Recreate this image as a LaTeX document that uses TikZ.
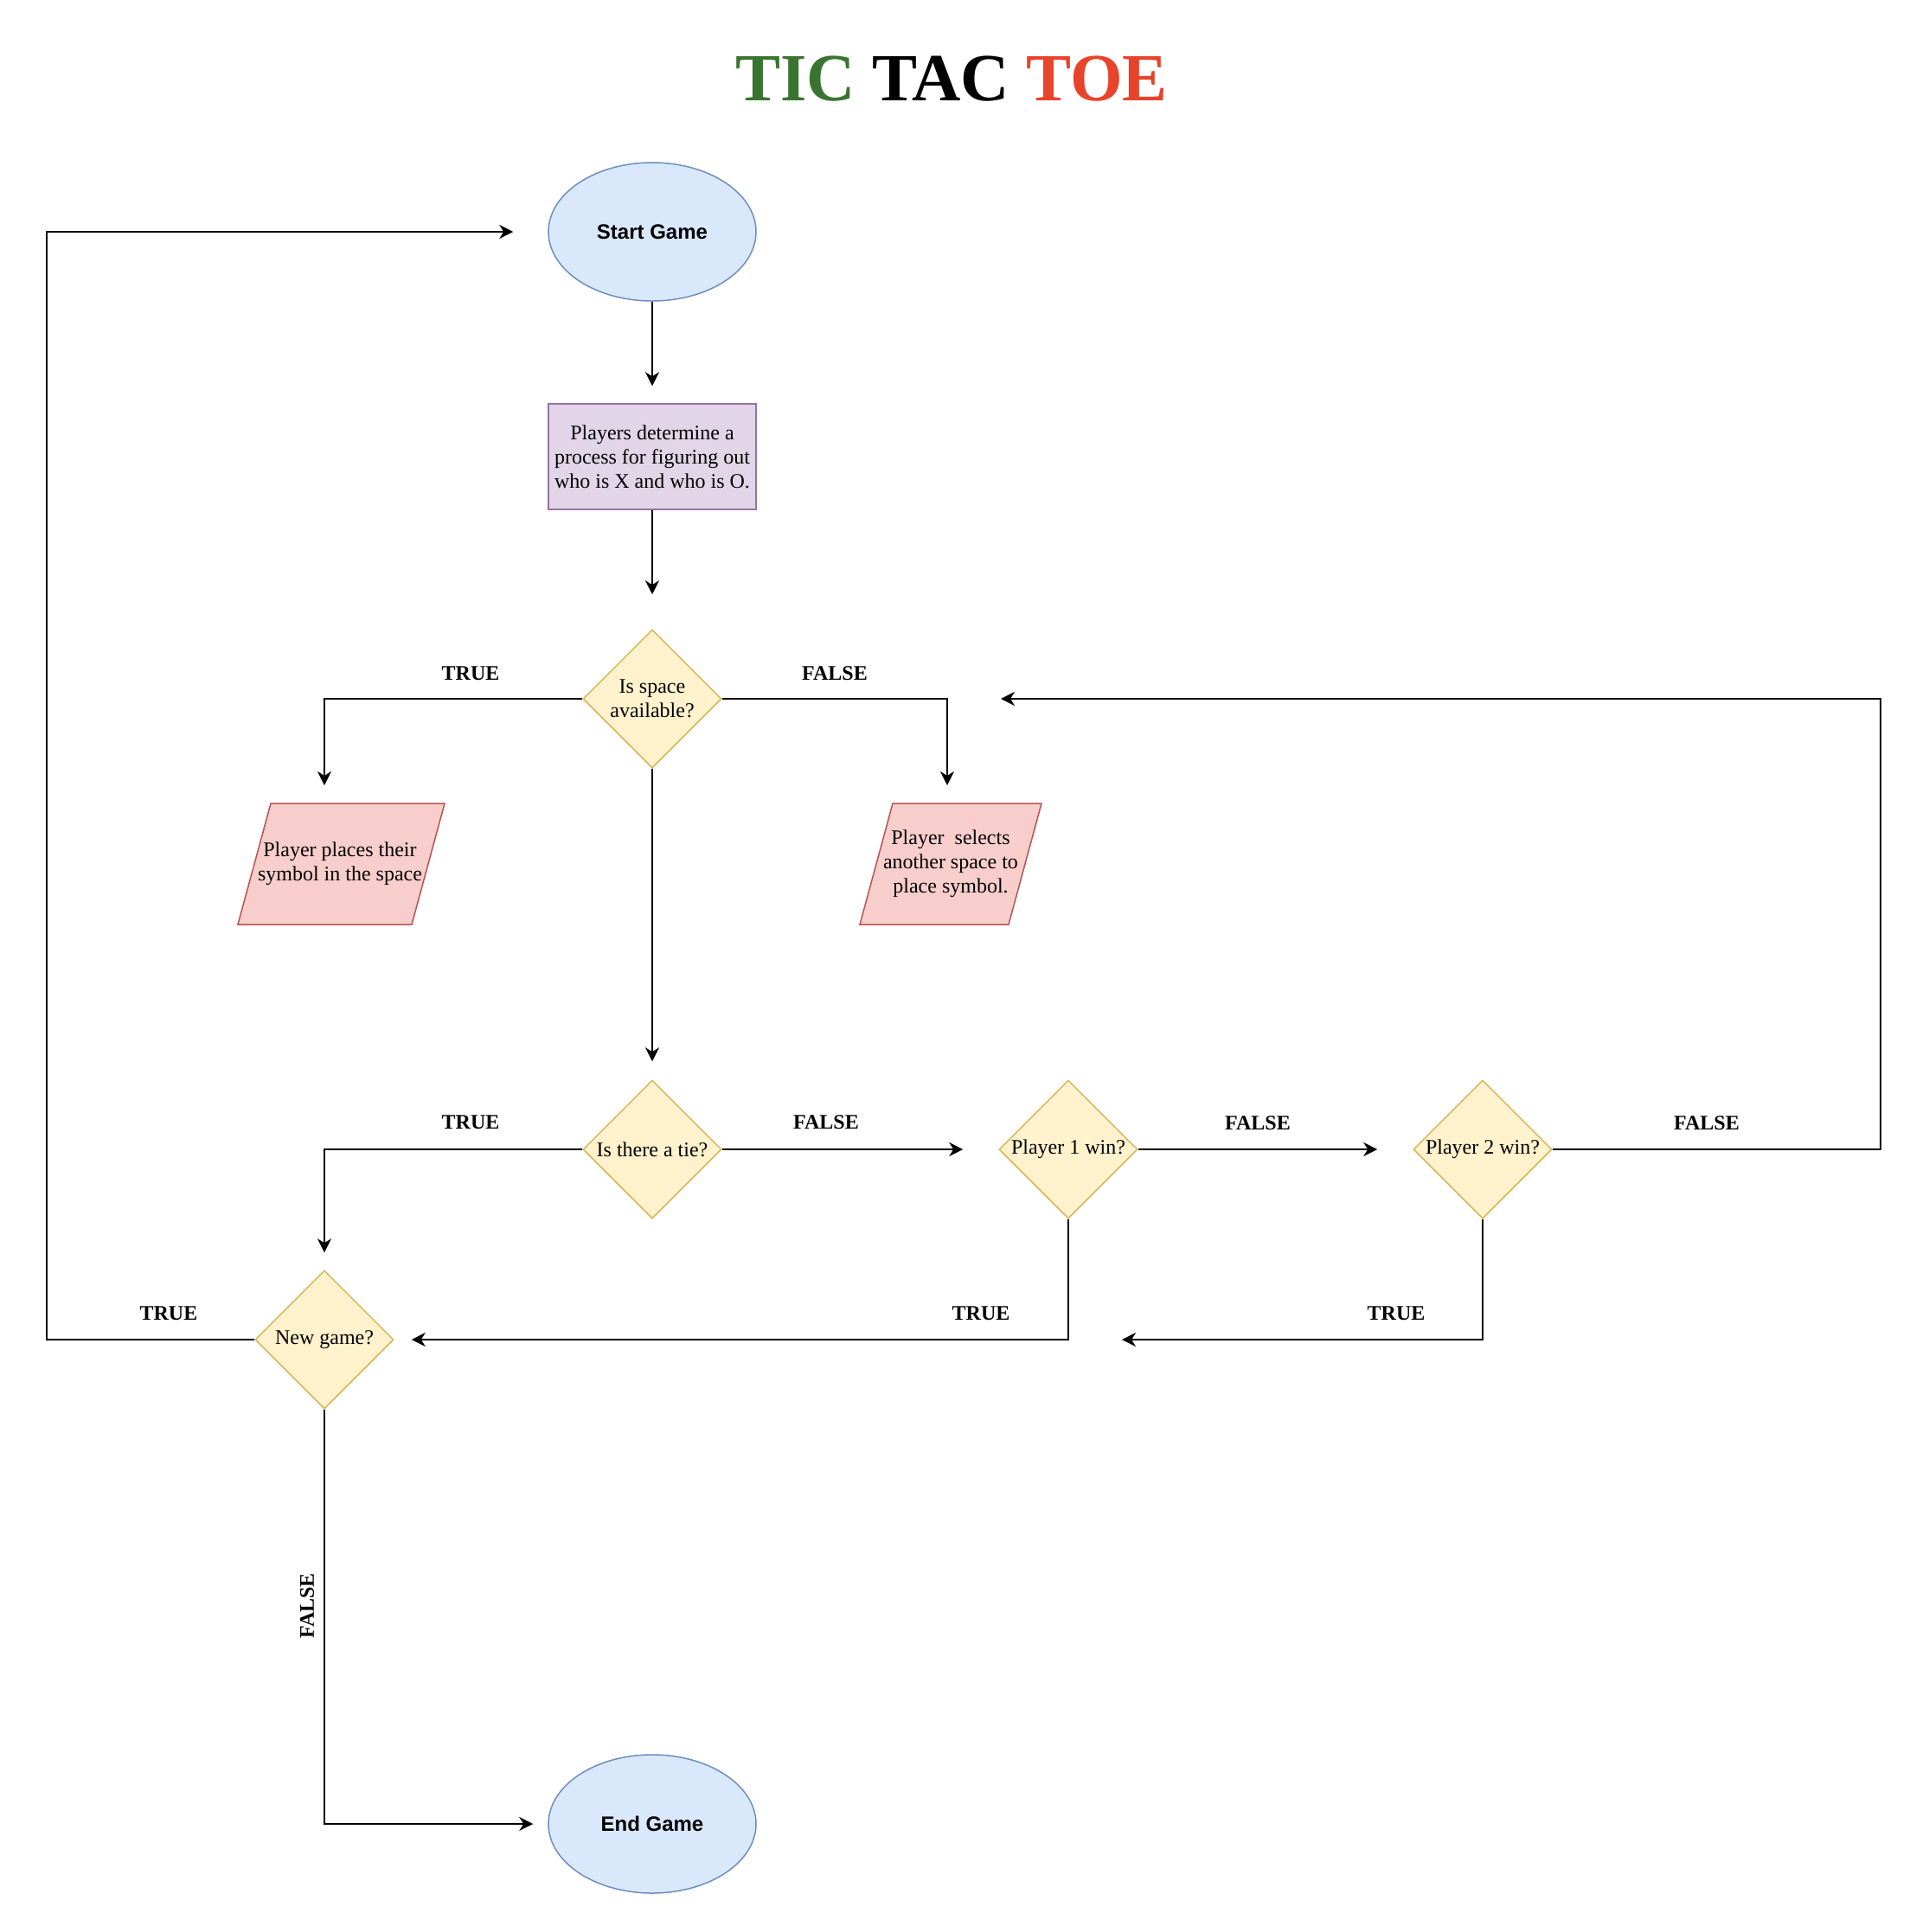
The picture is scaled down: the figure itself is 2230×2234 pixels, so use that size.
\documentclass[tikz,border=0pt]{standalone}
\usepackage{fontspec}
\setmainfont{Liberation Serif}
\newfontfamily\hsans{Liberation Sans}
\usetikzlibrary{shapes.geometric,arrows.meta}
\definecolor{bfill}{HTML}{DAE8FC}\definecolor{bdraw}{HTML}{6C8EBF}
\definecolor{pfill}{HTML}{E1D5E7}\definecolor{pdraw}{HTML}{9673A6}
\definecolor{yfill}{HTML}{FFF2CC}\definecolor{ydraw}{HTML}{D6B656}
\definecolor{rfill}{HTML}{F8CECC}\definecolor{rdraw}{HTML}{B85450}
\definecolor{tgreen}{HTML}{3A7430}\definecolor{tred}{HTML}{E8432B}
\begin{document}
\begin{tikzpicture}[x=0.5pt,y=-0.5pt,
 base/.style={font=\fontsize{12}{14}\selectfont, align=center},
 term/.style={ellipse, draw=bdraw, fill=bfill, line width=0.75pt, minimum width=120pt, minimum height=80pt, inner sep=0pt, font=\hsans\bfseries\fontsize{12}{14}\selectfont},
 procbox/.style={rectangle, draw=pdraw, fill=pfill, line width=0.75pt, minimum width=120pt, minimum height=61pt, inner sep=0pt, base},
 dia/.style={diamond, draw=ydraw, fill=yfill, line width=0.75pt, minimum width=80pt, minimum height=80pt, inner sep=0pt},
 io/.style={draw=rdraw, fill=rfill, line width=0.75pt},
 txt/.style={base, inner sep=0pt},
 lbl/.style={font=\bfseries\fontsize{12}{14}\selectfont, inner sep=0pt},
 conn/.style={line width=1pt, -{Stealth[length=8pt,width=8pt,inset=2.5pt]}}
]
\useasboundingbox (0,0) rectangle (2230,2234);

\node[font=\bfseries\fontsize{39}{46}\selectfont, anchor=base, inner sep=0pt] (title) at (1100,116) {\textcolor{tgreen}{TIC} TAC \textcolor{tred}{TOE}};

\node[term] (start) at (754,268) {Start Game};
\node[procbox] (proc) at (754,528) {Players determine a\\process for figuring out\\who is X and who is O.};

\node[dia] (space) at (754,808) {};
\node[txt] (space-t) at (754,808) {Is space\\available?};

\filldraw[io] (313,929) -- (514,929) -- (476,1069) -- (275,1069) -- cycle;
\node[txt] (pl-t) at (393,999) {Player places their\\symbol in the space};
\filldraw[io] (1032,929) -- (1204,929) -- (1166,1069) -- (994,1069) -- cycle;
\node[txt] (pr-t) at (1099,999) {Player\ \ selects\\another space to\\place symbol.};

\node[dia] (tie) at (754,1329) {};
\node[txt] (tie-t) at (754,1329) {Is there a tie?};
\node[dia] (p1) at (1235,1329) {};
\node[txt] (p1-t) at (1235,1329) {Player 1 win?};
\node[dia] (p2) at (1714,1329) {};
\node[txt] (p2-t) at (1714,1329) {Player 2 win?};
\node[dia] (ng) at (375,1549) {};
\node[txt] (ng-t) at (375,1549) {New game?};

\node[term] (end) at (754,2109) {End Game};

\coordinate (c-pl) at (375,908);
\coordinate (c-pr) at (1095,908);
\coordinate (c-loop) at (1157,808);
\coordinate (c-p2t) at (1297,1549);

\draw[conn, shorten >=10pt] (start) -- (proc);
\draw[conn, shorten >=20pt] (proc) -- (space);
\draw[conn] (space.west) -| (c-pl);
\draw[conn] (space.east) -| (c-pr);
\draw[conn, shorten >=10.5pt] (space) -- (tie);
\draw[conn, shorten >=10pt] (tie.west) -| (ng.north);
\draw[conn, shorten >=20.5pt] (tie) -- (p1);
\draw[conn, shorten >=20.5pt] (p1) -- (p2);
\draw[conn] (p2.east) -- (2174,1329) |- (c-loop);
\draw[conn, shorten >=10pt] (p1.south) |- (ng.east);
\draw[conn] (p2.south) |- (c-p2t);
\draw[conn, shorten >=20pt] (ng.west) -- (54,1549) |- (start.west);
\draw[conn, shorten >=8.5pt] (ng.south) |- (end.west);

\node[lbl] (l1) at (544,779) {TRUE};
\node[lbl] (l2) at (965,779) {FALSE};
\node[lbl] (l3) at (544,1298) {TRUE};
\node[lbl] (l4) at (955,1298) {FALSE};
\node[lbl] (l5) at (1454,1299) {FALSE};
\node[lbl] (l6) at (1973,1299) {FALSE};
\node[lbl] (l7) at (1134,1519) {TRUE};
\node[lbl] (l8) at (1614,1519) {TRUE};
\node[lbl] (l9) at (195,1519) {TRUE};
\node[lbl, rotate=90] (l10) at (355,1857) {FALSE};
\end{tikzpicture}
\end{document}
